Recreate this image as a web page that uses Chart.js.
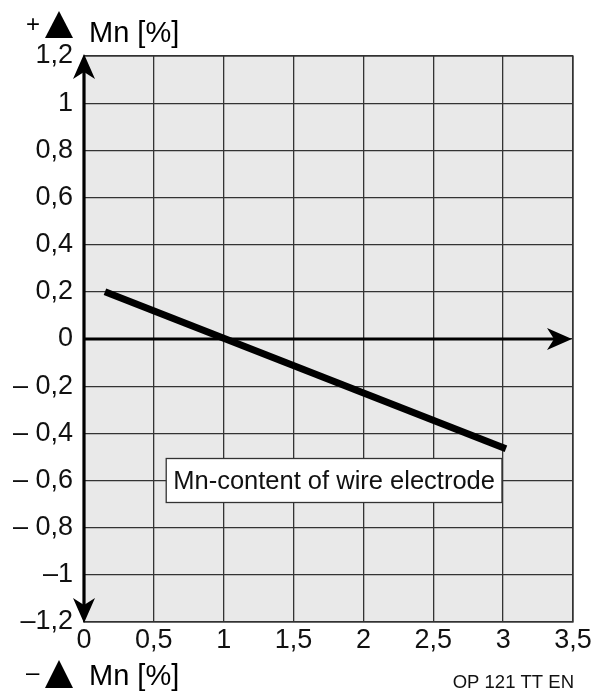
<!DOCTYPE html>
<html>
<head>
<meta charset="utf-8">
<script src="https://cdn.jsdelivr.net/npm/chart.js@4/dist/chart.umd.min.js"></script>
<style>
html,body{margin:0;padding:0;background:#fff;}
#wrap{width:595px;height:691px;position:relative;}
</style>
</head>
<body>
<div id="wrap"><canvas id="c" width="595" height="691"></canvas></div>
<script>
// ---- data ----
const xTickValues = [0, 0.5, 1, 1.5, 2, 2.5, 3, 3.5];
const xTickLabels = ["0", "0,5", "1", "1,5", "2", "2,5", "3", "3,5"];
const yTickValues = [1.2, 1, 0.8, 0.6, 0.4, 0.2, 0, -0.2, -0.4, -0.6, -0.8, -1, -1.2];
const yTickLabels = ["1,2", "1", "0,8", "0,6", "0,4", "0,2", "0", "\u2013 0,2", "\u2013 0,4", "\u2013 0,6", "\u2013 0,8", "\u20131", "\u20131,2"];
const lineX = [0.15, 3.02];
const lineY = [0.2, -0.465];
const seriesLabel = "Mn-content of wire electrode";
const labelAnchor = [1.79, -0.6];
const topAxisTitle = "Mn [%]";
const bottomAxisTitle = "Mn [%]";
const codeText = "OP 121 TT EN";

const FONT = '"Liberation Sans", Arial, Helvetica, sans-serif';

function arrow(ctx, tx, ty, dx, dy) {
  const L = 25, H = 11, N = 18;
  const px = -dy, py = dx;
  ctx.beginPath();
  ctx.moveTo(tx, ty);
  ctx.lineTo(tx - dx * L + px * H, ty - dy * L + py * H);
  ctx.lineTo(tx - dx * N, ty - dy * N);
  ctx.lineTo(tx - dx * L - px * H, ty - dy * L - py * H);
  ctx.closePath();
  ctx.fill();
}

const deco = {
  id: 'deco',
  beforeDraw(chart) {
    const {ctx, chartArea: a} = chart;
    ctx.save();
    ctx.fillStyle = '#e9e9e9';
    ctx.fillRect(a.left, a.top, a.right - a.left, a.bottom - a.top);
    ctx.restore();
  },
  afterDatasetsDraw(chart) {
    const {ctx, chartArea: a, scales} = chart;
    const xs = scales.x, ys = scales.y;
    ctx.save();
    ctx.strokeStyle = '#333';
    ctx.lineWidth = 1.3;
    ctx.strokeRect(a.left, a.top, a.right - a.left, a.bottom - a.top);
    ctx.fillStyle = '#000';
    ctx.strokeStyle = '#000';
    const x0 = xs.getPixelForValue(0);
    ctx.lineWidth = 3.2;
    ctx.beginPath();
    ctx.moveTo(x0, a.top + 14);
    ctx.lineTo(x0, a.bottom - 14);
    ctx.stroke();
    arrow(ctx, x0, a.top - 2, 0, -1);
    arrow(ctx, x0, a.bottom + 1, 0, 1);
    const y0 = ys.getPixelForValue(0);
    ctx.beginPath();
    ctx.moveTo(x0, y0);
    ctx.lineTo(a.right - 14, y0);
    ctx.stroke();
    arrow(ctx, a.right - 1, y0, 1, 0);
    ctx.restore();
  },
  afterDraw(chart) {
    const {ctx, scales} = chart;
    ctx.save();
    ctx.font = '25.5px ' + FONT;
    const cx = scales.x.getPixelForValue(labelAnchor[0]);
    const cy = scales.y.getPixelForValue(labelAnchor[1]);
    const w = ctx.measureText(seriesLabel).width + 14;
    const h = 44;
    ctx.fillStyle = '#fff';
    ctx.fillRect(cx - w / 2, cy - h / 2, w, h);
    ctx.strokeStyle = '#333';
    ctx.lineWidth = 1.3;
    ctx.strokeRect(cx - w / 2, cy - h / 2, w, h);
    ctx.fillStyle = '#111';
    ctx.textAlign = 'center';
    ctx.textBaseline = 'middle';
    ctx.fillText(seriesLabel, cx, cy + 1);

    ctx.fillStyle = '#000';
    ctx.textAlign = 'left';
    ctx.textBaseline = 'alphabetic';
    ctx.font = '24px ' + FONT;
    ctx.fillText('+', 26, 32);
    ctx.beginPath();
    ctx.moveTo(59, 11); ctx.lineTo(73, 38); ctx.lineTo(45, 38); ctx.closePath(); ctx.fill();
    ctx.font = '29px ' + FONT;
    ctx.fillText(topAxisTitle, 89, 42);

    ctx.font = '24px ' + FONT;
    ctx.fillText('\u2013', 26, 680);
    ctx.beginPath();
    ctx.moveTo(59, 660); ctx.lineTo(73, 688); ctx.lineTo(45, 688); ctx.closePath(); ctx.fill();
    ctx.font = '29px ' + FONT;
    ctx.fillText(bottomAxisTitle, 89, 685);

    ctx.font = '18.5px ' + FONT;
    ctx.fillStyle = '#111';
    ctx.textAlign = 'right';
    ctx.fillText(codeText, 574, 688);
    ctx.restore();
  }
};

new Chart(document.getElementById('c'), {
  type: 'scatter',
  data: {
    datasets: [{
      data: lineX.map((x, i) => ({x: x, y: lineY[i]})),
      showLine: true,
      borderColor: '#000',
      borderWidth: 7,
      borderCapStyle: 'butt',
      pointRadius: 0,
      pointHoverRadius: 0,
      fill: false
    }]
  },
  options: {
    responsive: false,
    animation: false,
    events: [],
    layout: {padding: {top: 56, right: 22, left: 0, bottom: 0}},
    plugins: {legend: {display: false}, tooltip: {enabled: false}},
    scales: {
      x: {
        type: 'linear', min: 0, max: 3.5,
        afterBuildTicks: s => { s.ticks = xTickValues.map(v => ({value: v})); },
        afterFit: s => { s.height = 69; },
        grid: {color: '#333', lineWidth: 1.3, drawTicks: false},
        border: {display: false},
        ticks: {
          autoSkip: false, maxRotation: 0, padding: 2,
          color: '#111',
          font: {family: FONT, size: 27},
          callback: (v, i) => xTickLabels[i]
        }
      },
      y: {
        type: 'linear', min: -1.2, max: 1.2,
        afterBuildTicks: s => { s.ticks = yTickValues.slice().reverse().map(v => ({value: v})); },
        afterFit: s => { s.width = 84; },
        grid: {color: '#333', lineWidth: 1.3, drawTicks: false},
        border: {display: false},
        ticks: {
          autoSkip: false, padding: 11,
          color: '#111',
          font: {family: FONT, size: 27},
          callback: (v, i) => yTickLabels[yTickLabels.length - 1 - i]
        }
      }
    }
  },
  plugins: [deco]
});
</script>
</body>
</html>
